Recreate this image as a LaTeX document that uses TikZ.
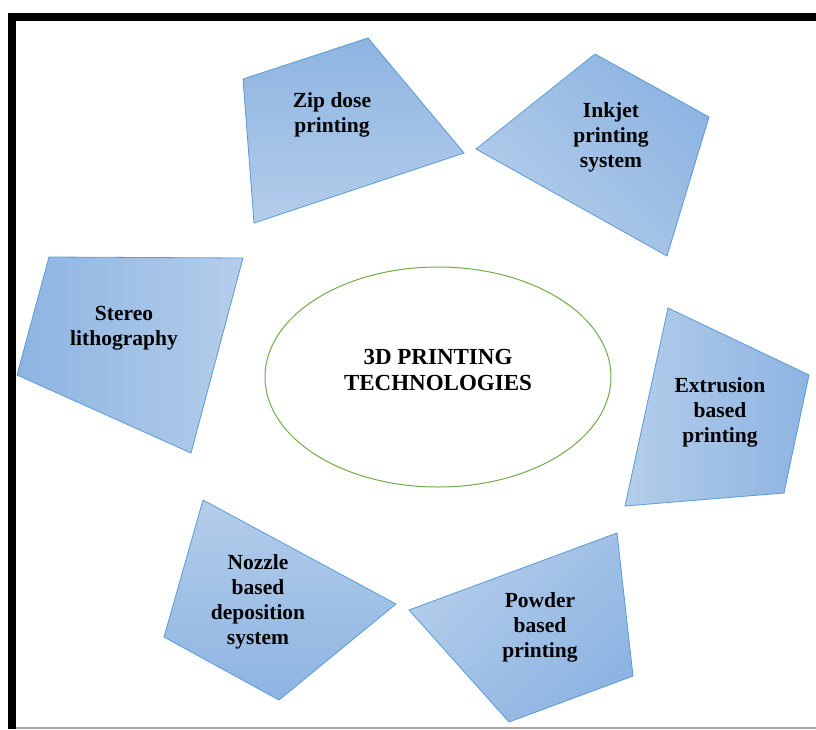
\documentclass[tikz,border=0pt]{standalone}
\usepackage{fontspec}
\setmainfont{Liberation Serif}
\usepackage{tikz}

\definecolor{petaldark}{RGB}{141,180,226}
\definecolor{petallight}{RGB}{180,205,234}
\definecolor{petalline}{RGB}{91,155,213}
\definecolor{ringgreen}{RGB}{112,173,71}

\begin{document}
\begin{tikzpicture}[x=1pt, y=-1pt,
		petal/.style={draw=petalline, line width=0.8pt, top color=petaldark, bottom color=petallight},
		lbl/.style={align=center, font=\bfseries\fontsize{21.5}{25}\selectfont}]
			\useasboundingbox (0,0) rectangle (816,729);
			\fill[white] (0,0) rectangle (816,729);

			% frame
			\fill[black] (8,13) rectangle (816,20.5);
			\fill[black] (8,13) rectangle (15.5,729);
			\draw[gray!70, line width=1.5pt] (15.5,728) -- (816,728);

			% petals
			\path[petal, shading angle=0] (243,79) -- (368,38) -- (464,153) -- (254,223) -- cycle;
			\path[petal, shading angle=-45] (476,149) -- (595,54) -- (709,117) -- (667,256) -- cycle;
			\path[petal, shading angle=90] (49,257) -- (243,258) -- (191,453) -- (17,375) -- cycle;
			\path[petal, shading angle=-90] (668,308) -- (809,375) -- (784,493) -- (625,506) -- cycle;
			\path[petal, shading angle=180] (203,500) -- (396,604) -- (279,700) -- (164,637) -- cycle;
			\path[petal, shading angle=-135] (409,610) -- (617,533) -- (633,676) -- (509,722) -- cycle;

			\node[lbl] (zip) at (332,115) {Zip dose\\printing};
			\node[lbl] (inkjet) at (611,137) {Inkjet\\printing\\system};
			\node[lbl] (stereo) at (124,328) {Stereo\\lithography};
			\node[lbl] (extrusion) at (720,412) {Extrusion\\based\\printing};
			\node[lbl] (nozzle) at (258,602) {Nozzle\\based\\deposition\\system};
			\node[lbl] (powder) at (540,627) {Powder\\based\\printing};

			% centre
			\draw[ringgreen, line width=1pt] (438,377) ellipse [x radius=173, y radius=110];
			\node[lbl, font=\bfseries\fontsize{23}{26}\selectfont] (tech) at (438,370) {3D PRINTING\\TECHNOLOGIES};
		\end{tikzpicture}
\end{document}
